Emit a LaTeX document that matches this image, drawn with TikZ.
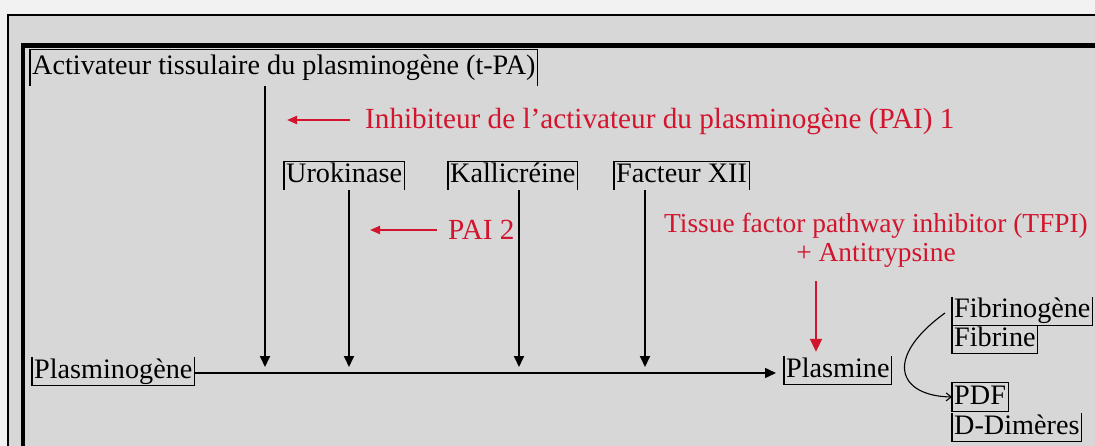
\documentclass[tikz,border=0pt]{standalone}
\usepackage{fontspec}
\setmainfont{Liberation Serif}
\usetikzlibrary{arrows.meta}
\definecolor{panel}{HTML}{D7D7D7}
\definecolor{paper}{HTML}{F2F2F2}
\definecolor{inhib}{HTML}{D2142D}
\begin{document}
\begin{tikzpicture}[x=1pt,y=-1pt,
  font=\fontsize{28.2}{31}\selectfont,
  lbl/.style={inner xsep=2pt, inner ysep=2pt, text height=19pt, text depth=5pt, anchor=base west},
  inh/.style={text=inhib, inner sep=0pt, anchor=base west, font=\fontsize{29.2}{29}\selectfont},
  edge/.style={line width=1.1pt},
  blk/.style={line width=1.8pt, -{Triangle[length=11pt,width=10pt]}, shorten >=6pt},
  redarr/.style={draw=inhib, line width=2pt, -{Triangle[length=10pt,width=8pt]}},
  curv/.style={line width=1.1pt, -{Straight Barb[length=5pt,width=8pt]}}]
\useasboundingbox (0,0) rectangle (1095,446);
% page and framed panel
\fill[paper] (0,0) rectangle (1095,446);
\fill[panel] (8,15) rectangle (1095,446);
\draw[line width=1.6pt] (8,446) -- (8,15) -- (1095,15);
\draw[line width=4.5pt] (23,446) -- (23,45.5) -- (1095,45.5);

% activators
\node[lbl, inner ysep=6pt] (tpa) at (30,75) {Activateur tissulaire du plasminogène (t-PA)};
\node[lbl] (uro) at (284,183) {Urokinase};
\node[lbl] (kal) at (448,183) {Kallicréine};
\node[lbl] (f12) at (614,183) {Facteur XII};
% main pathway
\node[lbl] (plg) at (32,378) {Plasminogène};
\node[lbl] (plm) at (784,377) {Plasmine};
% substrates and products
\node[lbl] (fbg) at (952,318) {Fibrinogène};
\node[lbl] (fbn) at (952,346) {Fibrine};
\node[lbl] (pdf) at (952,404) {PDF};
\node[lbl] (ddim) at (952,434) {D-Dimères};
% inhibitors
\node[inh] (pai1) at (365,129) {Inhibiteur de l’activateur du plasminogène (PAI) 1};
\node[inh] (pai2) at (448,240) {PAI 2};
\node[inh, align=center, anchor=north, font=\fontsize{27.4}{29}\selectfont] (tfpi) at (876,213) {Tissue factor pathway inhibitor (TFPI)\\+ Antitrypsine};

% open frames around the labels
\draw[edge] (tpa.south west) |- (tpa.north east) -- (tpa.south east);
\draw[edge] (uro.south west) |- (uro.north east) -- (uro.south east);
\draw[edge] (kal.south west) |- (kal.north east) -- (kal.south east);
\draw[edge] (f12.south west) |- (f12.north east) -- (f12.south east);
\draw[edge] (plg.north west) |- (plg.south east) -- (plg.north east);
\draw[edge] (plm.north west) |- (plm.south east) -- (plm.north east);
\draw[edge] (fbg.north west) |- (fbg.south east) -- (fbg.north east);
\draw[edge] (fbn.north west) |- (fbn.south east) -- (fbn.north east);
\draw[edge] (pdf.north west) rectangle (pdf.south east);
\draw[edge] (ddim.north west) |- (ddim.south east) -- (ddim.north east);

% activation arrows onto the main line
\coordinate (j1) at (265,373);
\coordinate (j2) at (349,373);
\coordinate (j3) at (519,373);
\coordinate (j4) at (645,373);
\draw[blk] (tpa.south -| j1) -- (j1);
\draw[blk] (uro.south -| j2) -- (j2);
\draw[blk] (kal.south -| j3) -- (j3);
\draw[blk] (f12.south -| j4) -- (j4);
\draw[line width=1.5pt, -{Triangle[length=11pt,width=10pt]}, shorten >=8pt] (plg.east |- j1) -- (plm.west |- j1);

% inhibition arrows
\coordinate (r1) at (287,120);
\coordinate (r2) at (370,230);
\coordinate (r3) at (816,281);
\draw[redarr, shorten <=15pt] (pai1.west |- r1) -- (r1);
\draw[redarr, shorten <=11pt] (pai2.west |- r2) -- (r2);
\draw[draw=inhib, line width=2pt, -{Triangle[length=13pt,width=12pt]}, shorten >=4pt] (r3) -- (plm.north -| r3);

% cleavage of fibrinogen / fibrin into degradation products
\coordinate (c0) at (945,313);
\draw[curv] (c0) .. controls (883,358) and (898,396) .. (pdf.west);
\end{tikzpicture}
\end{document}
